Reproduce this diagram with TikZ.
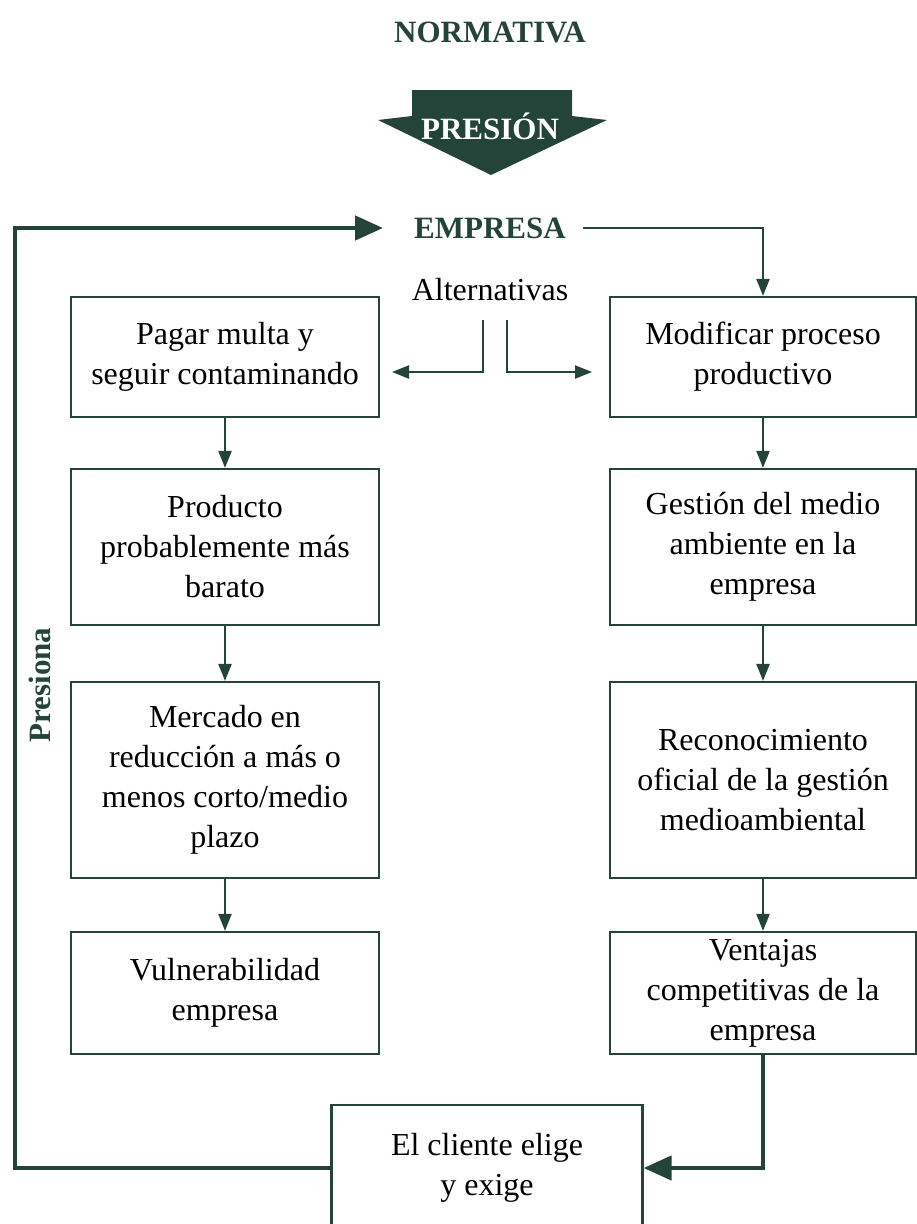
\documentclass[tikz,border=0pt]{standalone}
\usepackage{fontspec}
\setmainfont{Liberation Serif}
\usepackage{tikz}
\usetikzlibrary{arrows.meta, positioning}
\definecolor{verdeosc}{RGB}{36,68,58}
\tikzset{
	caja/.style={draw=verdeosc, line width=2.2pt, minimum width=308pt, align=center, inner sep=0pt, font=\fontsize{32}{40}\selectfont},
	titulo/.style={text=verdeosc, font=\bfseries\fontsize{31}{37}\selectfont},
	flecha/.style={draw=verdeosc, line width=2.2pt, -{Triangle[length=17pt,width=13pt]}},
	gruesa/.style={draw=verdeosc, line width=4.5pt, -{Triangle[length=28pt,width=24pt]}},
}
\begin{document}
\begin{tikzpicture}[x=1pt, y=-1pt]
	\path[use as bounding box] (0,0) rectangle (917,1224);
	\clip (0,0) rectangle (917,1224);
	% cabecera
	\node[titulo] (norm) at (490,32) {NORMATIVA};
	\fill[verdeosc] (412,90) -- (572,90) -- (572,116) -- (607,120) -- (491,175) -- (378,120) -- (412,116) -- cycle;
	\node[titulo, text=white] (pres) at (490,126) {PRESIÓN};
	\node[titulo, inner xsep=17pt] (emp) at (490,228) {EMPRESA};
	\node[font=\fontsize{32}{40}\selectfont] (alt) at (490,290) {Alternativas};
	% columna izquierda
	\node[caja, minimum height=120pt] (pm) at (225,357) {Pagar multa y\\seguir contaminando};
	\node[caja, minimum height=156pt] (pb) at (225,547) {Producto\\probablemente más\\barato};
	\node[caja, minimum height=196pt] (mr) at (225,780) {Mercado en\\reducción a más o\\menos corto/medio\\plazo};
	\node[caja, minimum height=122pt] (vu) at (225,993) {Vulnerabilidad\\empresa};
	% columna derecha
	\node[caja, minimum width=306pt, minimum height=120pt] (mp) at (763,357) {Modificar proceso\\productivo};
	\node[caja, minimum width=306pt, minimum height=156pt] (gm) at (763,547) {Gestión del medio\\ambiente en la\\empresa};
	\node[caja, minimum width=306pt, minimum height=196pt] (rc) at (763,780) {Reconocimiento\\oficial de la gestión\\medioambiental};
	\node[caja, minimum width=306pt, minimum height=122pt] (vc) at (763,993) {Ventajas\\competitivas de la\\empresa};
	% cliente
	\node[caja, minimum width=311pt, minimum height=126pt] (cl) at (487,1168) {El cliente elige\\y exige};
	% flechas
	\coordinate (a1) at (483,320);
	\coordinate (a2) at (392,372);
	\coordinate (b1) at (507,320);
	\coordinate (b2) at (592,372);
	\draw[flecha] (a1) |- (a2);
	\draw[flecha] (b1) |- (b2);
	\draw[flecha] (emp.east) -| (mp.north);
	\draw[flecha] (pm) -- (pb);
	\draw[flecha] (pb) -- (mr);
	\draw[flecha] (mr) -- (vu);
	\draw[flecha] (mp) -- (gm);
	\draw[flecha] (gm) -- (rc);
	\draw[flecha] (rc) -- (vc);
	\draw[gruesa] (vc.south) |- (cl.east);
	\coordinate (esq) at (15,228);
	\draw[gruesa, shorten >=14pt] (cl.west) -| (esq) -- (emp.west);
	\node[titulo, rotate=90] (presiona) at (40,685) {Presiona};
\end{tikzpicture}
\end{document}
